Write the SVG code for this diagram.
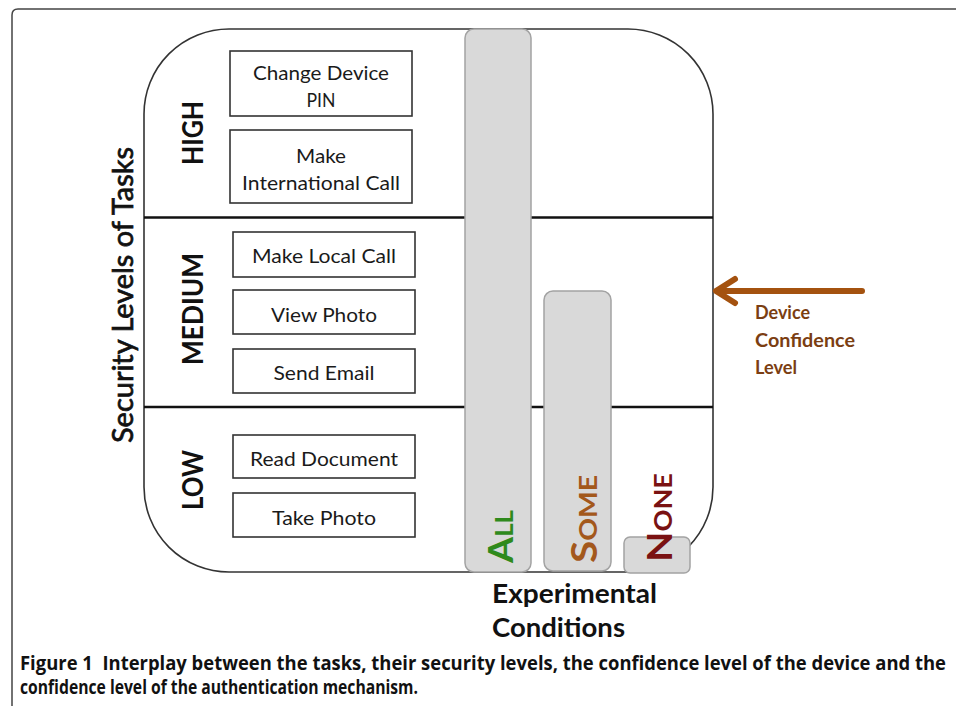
<svg xmlns="http://www.w3.org/2000/svg" width="956" height="706" viewBox="0 0 956 706">
  <style>
    .task { fill: #ffffff; stroke: #333333; stroke-width: 1.6; }
    .ttext { font-family: Lato, "Liberation Sans", sans-serif; font-size: 19px; fill: #1a1a1a; text-anchor: middle; }
    .level { font-family: Lato, "Liberation Sans", sans-serif; font-size: 29px; font-weight: bold; fill: #111111; text-anchor: middle; }
    .bar { fill: #d9d9d9; stroke: #a3a3a3; stroke-width: 1.5; }
    .cond { font-family: Lato, "Liberation Sans", sans-serif; font-weight: bold; }
    .brown { font-family: Lato, "Liberation Sans", sans-serif; font-size: 19px; font-weight: bold; fill: #7b3e12; }
    .axis { font-family: Lato, "Liberation Sans", sans-serif; font-size: 28px; fill: #111111; stroke: #111111; stroke-width: 0.7; text-anchor: middle; }
    .caption { font-family: "Open Sans", "Liberation Sans", sans-serif; font-size: 19px; font-weight: bold; fill: #111111; }
    .divider { stroke: #111111; stroke-width: 2.4; }
  </style>

  <rect width="956" height="706" fill="#ffffff"/>

  <!-- page frame -->
  <path d="M12,706 V15 Q12,9 18,9 H956" fill="none" stroke="#444444" stroke-width="1.5"/>

  <!-- security level container -->
  <g id="levels-frame">
    <rect x="144" y="29" width="569" height="543" rx="85" ry="85" fill="#ffffff" stroke="#333333" stroke-width="1.6"/>
    <line class="divider" x1="144" y1="217.5" x2="713" y2="217.5"/>
    <line class="divider" x1="144" y1="407" x2="713" y2="407"/>
  </g>

  <!-- axis label -->
  <text class="axis" transform="translate(133,295) rotate(-90)" textLength="296" lengthAdjust="spacingAndGlyphs">Security Levels of Tasks</text>

  <!-- level labels -->
  <g id="level-high"><text class="level" transform="translate(203,133) rotate(-90)" textLength="64" lengthAdjust="spacingAndGlyphs">HIGH</text></g>
  <g id="level-medium"><text class="level" transform="translate(203,309) rotate(-90)" textLength="112" lengthAdjust="spacingAndGlyphs">MEDIUM</text></g>
  <g id="level-low"><text class="level" transform="translate(203,480) rotate(-90)" textLength="60" lengthAdjust="spacingAndGlyphs">LOW</text></g>

  <!-- tasks -->
  <g id="task-change-pin">
    <rect class="task" x="230" y="51" width="182" height="65"/>
    <text class="ttext" x="321" y="80" textLength="136" lengthAdjust="spacingAndGlyphs">Change Device</text>
    <text class="ttext" x="321" y="107" textLength="29" lengthAdjust="spacingAndGlyphs">PIN</text>
  </g>
  <g id="task-intl-call">
    <rect class="task" x="230" y="130" width="182" height="73"/>
    <text class="ttext" x="321" y="163" textLength="50" lengthAdjust="spacingAndGlyphs">Make</text>
    <text class="ttext" x="321" y="190" textLength="158" lengthAdjust="spacingAndGlyphs">International Call</text>
  </g>
  <g id="task-local-call">
    <rect class="task" x="233" y="232" width="182" height="45"/>
    <text class="ttext" x="324" y="263" textLength="144" lengthAdjust="spacingAndGlyphs">Make Local Call</text>
  </g>
  <g id="task-view-photo">
    <rect class="task" x="233" y="290" width="182" height="44"/>
    <text class="ttext" x="324" y="322" textLength="106" lengthAdjust="spacingAndGlyphs">View Photo</text>
  </g>
  <g id="task-send-email">
    <rect class="task" x="233" y="349" width="182" height="44"/>
    <text class="ttext" x="324" y="380" textLength="101" lengthAdjust="spacingAndGlyphs">Send Email</text>
  </g>
  <g id="task-read-doc">
    <rect class="task" x="233" y="435" width="182" height="43"/>
    <text class="ttext" x="324" y="466" textLength="148" lengthAdjust="spacingAndGlyphs">Read Document</text>
  </g>
  <g id="task-take-photo">
    <rect class="task" x="233" y="493" width="182" height="44"/>
    <text class="ttext" x="324" y="525" textLength="104" lengthAdjust="spacingAndGlyphs">Take Photo</text>
  </g>

  <!-- experimental condition bars -->
  <g id="cond-all">
    <rect class="bar" x="465" y="29" width="66" height="543" rx="9"/>
    <text class="cond" fill="#2f8a1c" transform="translate(513,563) rotate(-90)" textLength="53" lengthAdjust="spacingAndGlyphs"><tspan font-size="35">A</tspan><tspan font-size="24">LL</tspan></text>
  </g>
  <g id="cond-some">
    <rect class="bar" x="544" y="291" width="67" height="280" rx="9"/>
    <text class="cond" fill="#a3581c" transform="translate(597,563) rotate(-90)" textLength="88" lengthAdjust="spacingAndGlyphs"><tspan font-size="36">S</tspan><tspan font-size="25">OME</tspan></text>
  </g>
  <g id="cond-none">
    <rect class="bar" x="624" y="537" width="66" height="36" rx="6"/>
    <text class="cond" fill="#7a1212" transform="translate(672,562) rotate(-90)" textLength="89" lengthAdjust="spacingAndGlyphs"><tspan font-size="35">N</tspan><tspan font-size="24">ONE</tspan></text>
  </g>

  <text class="cond" font-size="26" fill="#111111" x="492" y="603" textLength="165" lengthAdjust="spacingAndGlyphs">Experimental</text>
  <text class="cond" font-size="26" fill="#111111" x="492" y="637" textLength="133" lengthAdjust="spacingAndGlyphs">Conditions</text>

  <!-- device confidence indicator -->
  <g id="connectors">
    <g fill="none" stroke="#a4520f" stroke-width="6" stroke-linecap="round" stroke-linejoin="round">
      <line x1="862" y1="291" x2="717" y2="291"/>
      <polyline points="735,279 716,291 735,303"/>
    </g>
  </g>
  <g id="device-confidence">
    <text class="brown" x="755" y="319" textLength="55" lengthAdjust="spacingAndGlyphs">Device</text>
    <text class="brown" x="755" y="347" textLength="100" lengthAdjust="spacingAndGlyphs">Confidence</text>
    <text class="brown" x="755" y="374" textLength="42" lengthAdjust="spacingAndGlyphs">Level</text>
  </g>

  <!-- caption -->
  <text class="caption" x="20" y="670" textLength="926" lengthAdjust="spacingAndGlyphs" xml:space="preserve">Figure 1  Interplay between the tasks, their security levels, the confidence level of the device and the</text>
  <text class="caption" x="20" y="694" textLength="398" lengthAdjust="spacingAndGlyphs">confidence level of the authentication mechanism.</text>
</svg>
